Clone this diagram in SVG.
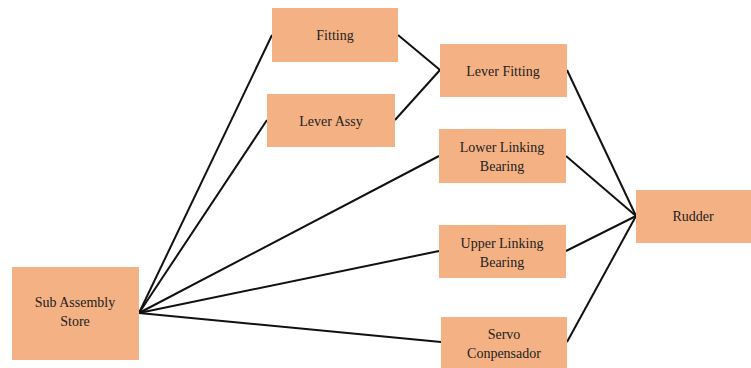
<svg xmlns="http://www.w3.org/2000/svg" width="751" height="368" viewBox="0 0 751 368">
<style>
.box{fill:#F4B183;}
.t{font-size:14px;fill:#222;text-anchor:middle;}
.c line{stroke:#111;stroke-width:2;}
</style>
<rect width="751" height="368" fill="#fff"/>
<g class="c" id="connectors">
<line x1="139" y1="313" x2="272" y2="35"/>
<line x1="139" y1="313" x2="267" y2="120"/>
<line x1="139" y1="313" x2="439" y2="156"/>
<line x1="139" y1="313" x2="439" y2="251"/>
<line x1="139" y1="313" x2="441" y2="342"/>
<line x1="398" y1="35" x2="440" y2="70"/>
<line x1="395" y1="120" x2="440" y2="70"/>
<line x1="567" y1="70" x2="636" y2="216"/>
<line x1="566" y1="156" x2="636" y2="216"/>
<line x1="566" y1="251" x2="636" y2="216"/>
<line x1="567" y1="342" x2="636" y2="216"/>
</g>
<g font-family="'Liberation Serif', 'DejaVu Serif', serif">
<g id="fitting"><rect class="box" x="272" y="8" width="126" height="54"/><text class="t" x="335" y="40">Fitting</text></g>
<g id="lever-assy"><rect class="box" x="267" y="94" width="128" height="53"/><text class="t" x="331" y="126">Lever Assy</text></g>
<g id="lever-fitting"><rect class="box" x="440" y="44" width="127" height="53"/><text class="t" x="503" y="76">Lever Fitting</text></g>
<g id="lower-linking"><rect class="box" x="439" y="129" width="127" height="54"/><text class="t" x="502" y="152">Lower Linking</text><text class="t" x="502" y="171">Bearing</text></g>
<g id="upper-linking"><rect class="box" x="439" y="225" width="127" height="53"/><text class="t" x="502" y="248">Upper Linking</text><text class="t" x="502" y="267">Bearing</text></g>
<g id="servo"><rect class="box" x="441" y="317" width="126" height="51"/><text class="t" x="504" y="339">Servo</text><text class="t" x="504" y="358">Conpensador</text></g>
<g id="rudder"><rect class="box" x="636" y="190" width="115" height="53"/><text class="t" x="693" y="221">Rudder</text></g>
<g id="sub-assembly"><rect class="box" x="12" y="267" width="127" height="93"/><text class="t" x="75" y="307">Sub Assembly</text><text class="t" x="75" y="326">Store</text></g>
</g>
</svg>
